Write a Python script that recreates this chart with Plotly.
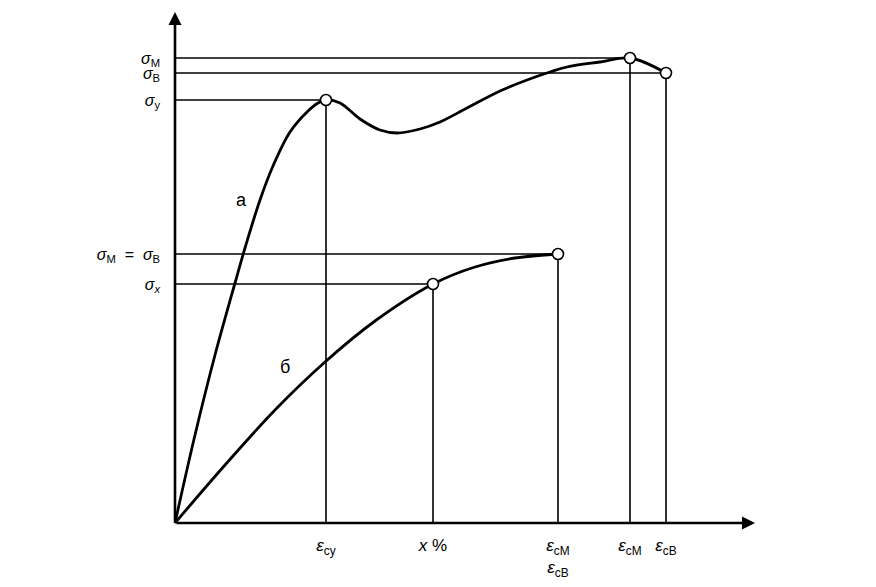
import plotly.graph_objects as go

# ---- data (strain ε, stress σ in drawing units) ----
curve_a_x = [0, 20, 40, 60, 70, 85, 98, 115, 132, 143, 151, 165, 185, 205, 222, 245, 265, 292, 325, 352, 375, 392, 425, 455, 491]
curve_a_y = [0, 88, 168, 240, 275, 323, 357, 391, 411, 420, 423, 420, 404, 393, 390, 394, 401, 415, 432, 443, 451, 456, 461, 465, 450]
curve_b_x = [0, 50, 100, 150, 200, 258, 300, 340, 383]
curve_b_y = [0, 58, 113, 161, 202, 239, 256, 265, 269]

# characteristic points (ε, σ)
key_x = [151, 455, 491, 258, 383]
key_y = [423, 465, 450, 239, 269]

y_tickvals = [465, 450, 423, 269, 239]
y_ticktext = ["<i>σ</i><sub>М</sub>", "<i>σ</i><sub>В</sub>", "<i>σ</i><sub>у</sub>",
              "<i>σ</i><sub>М</sub>  =  <i>σ</i><sub>В</sub>", "<i>σ</i><sub><i>x</i></sub>"]
x_tickvals = [151, 258, 383, 455, 491]
x_ticktext = ["<i>ε</i><sub>су</sub>", "<i>x</i> %", "<i>ε</i><sub>сМ</sub><br><i>ε</i><sub>сВ</sub>",
              "<i>ε</i><sub>сМ</sub>", "<i>ε</i><sub>сВ</sub>"]

X_MAX = 580
Y_MAX = 511

fig = go.Figure()

# guide lines: horizontal from σ-axis to point, vertical from point to ε-axis
for px, py in zip(key_x, key_y):
    fig.add_trace(go.Scatter(x=[0, px, px], y=[py, py, 0], mode="lines",
                             line=dict(color="black", width=1.6), hoverinfo="skip", showlegend=False))

fig.add_trace(go.Scatter(x=curve_a_x, y=curve_a_y, mode="lines",
                         line=dict(color="black", width=2.8, shape="spline", smoothing=1.0),
                         showlegend=False))
fig.add_trace(go.Scatter(x=curve_b_x, y=curve_b_y, mode="lines",
                         line=dict(color="black", width=2.8, shape="spline", smoothing=1.0),
                         showlegend=False))
fig.add_trace(go.Scatter(x=key_x, y=key_y, mode="markers",
                         marker=dict(size=11, color="white", line=dict(color="black", width=1.6)),
                         showlegend=False))

# axes with arrows
fig.add_annotation(x=X_MAX, y=0, ax=0, ay=0, xref="x", yref="y", axref="x", ayref="y",
                   text="", showarrow=True, arrowhead=2, arrowsize=1, arrowwidth=2.6, arrowcolor="black")
fig.add_annotation(x=0, y=Y_MAX, ax=0, ay=0, xref="x", yref="y", axref="x", ayref="y",
                   text="", showarrow=True, arrowhead=2, arrowsize=1, arrowwidth=2.6, arrowcolor="black")

# axis names and curve labels
fig.add_annotation(x=-28, y=503, xref="x", yref="y", text="<i>σ</i>", showarrow=False,
                   font=dict(size=19))
fig.add_annotation(x=570, y=-22, xref="x", yref="y", text="<i>ε</i>", showarrow=False,
                   font=dict(size=19))
fig.add_annotation(x=66, y=323, xref="x", yref="y", text="а", showarrow=False, font=dict(size=18))
fig.add_annotation(x=110, y=156, xref="x", yref="y", text="б", showarrow=False, font=dict(size=18))

fig.update_xaxes(range=[-5, 585], showgrid=False, zeroline=False, showline=False, ticks="",
                 tickvals=x_tickvals, ticktext=x_ticktext, tickangle=0, ticklabelstandoff=5,
                 tickfont=dict(size=17))
fig.update_yaxes(range=[-5, 515], showgrid=False, zeroline=False, showline=False, ticks="",
                 tickvals=y_tickvals, ticktext=y_ticktext, ticklabelstandoff=9,
                 tickfont=dict(size=16))

fig.update_layout(width=876, height=587, margin=dict(l=170, r=116, t=8, b=59),
                  plot_bgcolor="white", paper_bgcolor="white",
                  font=dict(family="Liberation Sans, Arial, sans-serif", size=18, color="black"))

fig.write_html("out.html", post_script="document.body.style.margin='0px';",
               config={"displayModeBar": False})
